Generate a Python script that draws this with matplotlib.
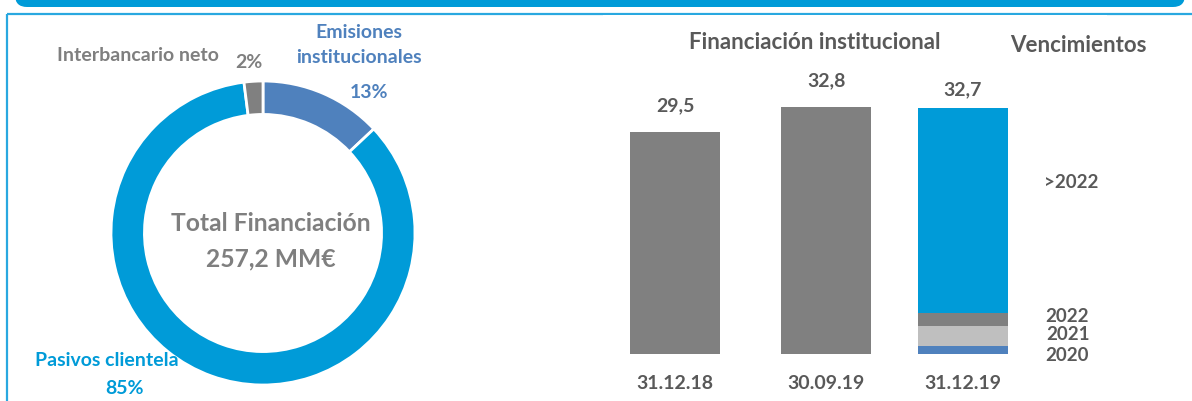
import matplotlib.pyplot as plt
from matplotlib.patches import FancyBboxPatch

# donut data
seg_names = ['Emisiones\ninstitucionales', 'Pasivos clientela', 'Interbancario neto']
seg_pct = [13, 85, 2]
seg_colors = ['#4f81bd', '#009bd8', '#808080']
total_label = '257,2 MM€'

# bar data
dates = ['31.12.18', '30.09.19', '31.12.19']
inst_total = [29.5, 32.8, 32.7]
mat_years = ['2020', '2021', '2022', '>2022']
mat_values = [1.0, 2.7, 1.8, 27.2]
mat_colors = ['#4f81bd', '#bfbfbf', '#808080', '#009bd8']

dark = '#595959'
plt.rcParams['font.family'] = ['Lato', 'DejaVu Sans']
plt.rcParams['font.weight'] = 'bold'

W, H = 1192, 401
fig = plt.figure(figsize=(W / 100, H / 100), dpi=100)

# frame decoration in pixel coordinates
bg = fig.add_axes([0, 0, 1, 1], zorder=-1)
bg.set_xlim(0, W)
bg.set_ylim(H, 0)
bg.axis('off')
bg.add_patch(FancyBboxPatch((15, -30), 1170, 37, boxstyle='round,pad=0,rounding_size=12',
                            fc='#009bd8', ec='none'))
bg.plot([7, W], [14, 14], color='#29a8e0', lw=1.6, solid_capstyle='butt')
bg.plot([7, 7], [14, H], color='#29a8e0', lw=1.6, solid_capstyle='butt')

# donut
cx, cy, r = 263, 233, 152
ax1 = fig.add_axes([(cx - r) / W, (H - cy - r) / H, 2 * r / W, 2 * r / H])
ax1.pie(seg_pct, colors=seg_colors, startangle=90, counterclock=False,
        wedgeprops=dict(width=0.22, edgecolor='white', linewidth=2))
ax1.set_xlim(-1, 1)
ax1.set_ylim(-1, 1)
ax1.axis('off')

lab = 14
ax1.text(0.63, 1.235, seg_names[0], ha='center', va='center', fontsize=lab,
         color=seg_colors[0], linespacing=1.6, clip_on=False)
ax1.text(0.70, 0.925, f'{seg_pct[0]}%', ha='center', va='center', fontsize=lab,
         color=seg_colors[0], clip_on=False)
ax1.text(-0.82, 1.17, seg_names[2], ha='center', va='center', fontsize=lab,
         color='#7f7f7f', clip_on=False)
ax1.text(-0.09, 1.125, f'{seg_pct[2]}%', ha='center', va='center', fontsize=lab,
         color='#7f7f7f', clip_on=False)
ax1.text(-1.03, -0.84, seg_names[1], ha='center', va='center', fontsize=lab,
         color=seg_colors[1], clip_on=False)
ax1.text(-0.91, -1.02, f'{seg_pct[1]}%', ha='center', va='center', fontsize=lab,
         color=seg_colors[1], clip_on=False)
ax1.text(0.05, 0.06, 'Total Financiación', ha='center', va='center', fontsize=17.7,
         color='#7f7f7f')
ax1.text(0.05, -0.17, total_label, ha='center', va='center', fontsize=17.7,
         color='#7f7f7f')

# bars
x0, unit, base, ppu = 675, 144, 354, 7.53
ymax = 45
ax2 = fig.add_axes([(x0 - 0.5 * unit) / W, (H - base) / H, 3.5 * unit / W, ymax * ppu / H])
ax2.set_xlim(-0.5, 3.0)
ax2.set_ylim(0, ymax)
xs = [0, 1.05, 2]
ax2.bar(xs[:2], inst_total[:2], width=0.625, color='#808080')
bottom = 0
for yr, v, c in zip(mat_years, mat_values, mat_colors):
    ax2.bar(xs[2], v, bottom=bottom, width=0.625, color=c)
    bottom += v

offsets = [13, 13, 7]
for x, v, off in zip(xs, inst_total, offsets):
    ax2.annotate(f'{v:.1f}'.replace('.', ','), (x, v), xytext=(0, off),
                 textcoords='offset points', ha='center', va='bottom',
                 fontsize=14, color=dark)

label_y = [-0.2, 2.6, 5.0, 22.8]
label_x = [2.72, 2.73, 2.72, 2.75]
for yr, lx, ly in zip(mat_years, label_x, label_y):
    ax2.text(lx, ly, yr, ha='center', va='center', fontsize=13.5, color=dark)

ax2.text(0.97, 41.4, 'Financiación institucional', ha='center', va='center',
         fontsize=16, color=dark)
ax2.text(2.8, 41.0, 'Vencimientos', ha='center', va='center', fontsize=16, color=dark)

ax2.set_xticks(xs)
ax2.set_xticklabels(dates, fontsize=14, color=dark)
ax2.tick_params(axis='x', length=0, pad=15)
ax2.set_yticks([])
for s in ax2.spines.values():
    s.set_visible(False)

fig.savefig('out.png', dpi=100)
